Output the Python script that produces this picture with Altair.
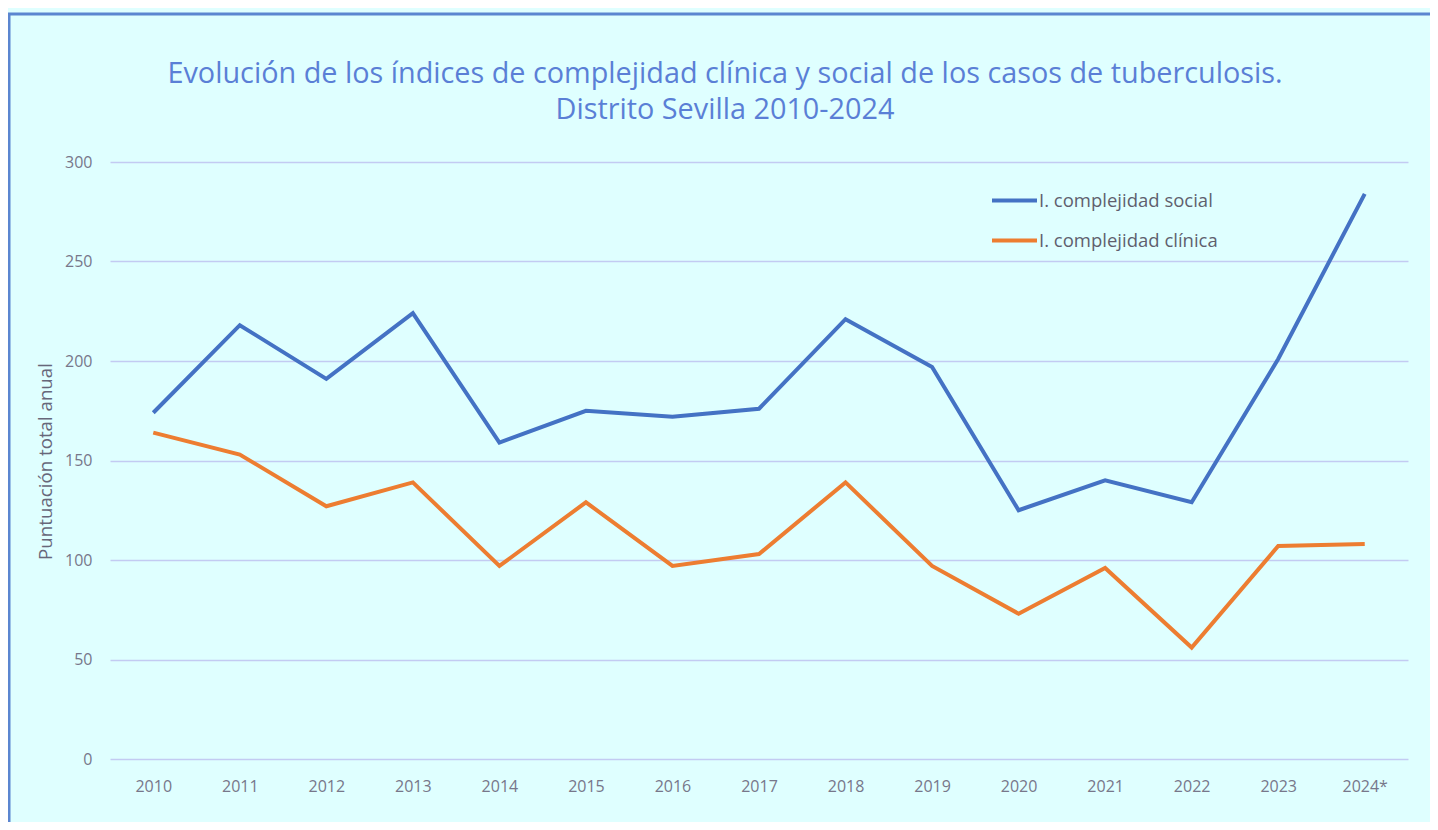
import altair as alt
import pandas as pd

years = ["2010", "2011", "2012", "2013", "2014", "2015", "2016", "2017",
         "2018", "2019", "2020", "2021", "2022", "2023", "2024*"]
social = [174, 218, 191, 224, 159, 175, 172, 176, 221, 197, 125, 140, 129, 201, 284]
clinica = [164, 153, 127, 139, 97, 129, 97, 103, 139, 97, 73, 96, 56, 107, 108]
series_names = ["I. complejidad social", "I. complejidad clínica"]
series_colors = ["#4472C4", "#ED7D31"]
y_ticks = [0, 50, 100, 150, 200, 250, 300]

rows = []
for name, vals in zip(series_names, [social, clinica]):
    for yr, v in zip(years, vals):
        rows.append({"Año": yr, "Serie": name, "Valor": v})
df = pd.DataFrame(rows)

W, H = 1298, 597
FONT = "Open Sans"

lines = alt.Chart(df).mark_line(strokeWidth=4).encode(
    x=alt.X("Año:N", sort=years, scale=alt.Scale(type="point", padding=0.5),
            axis=alt.Axis(title=None, labelAngle=0, ticks=False, domain=False,
                          labelPadding=19, labelFontSize=16, labelColor="#77778A",
                          labelFont=FONT, grid=False)),
    y=alt.Y("Valor:Q", scale=alt.Scale(domain=[0, 300], nice=False),
            axis=alt.Axis(title="Puntuación total anual", values=y_ticks,
                          ticks=False, domain=False, labelPadding=18,
                          labelFontSize=16, labelColor="#77778A", labelFont=FONT,
                          gridColor="#C3CBF2", gridWidth=1.5,
                          titleFont=FONT, titleFontSize=18.7, titleColor="#67677A",
                          titleFontWeight="normal", titleX=-65, titleY=299,
                          titleAngle=-90, titleAlign="center", titleBaseline="middle")),
    color=alt.Color("Serie:N", sort=series_names,
                    scale=alt.Scale(domain=series_names, range=series_colors),
                    legend=alt.Legend(title=None, orient="none", legendX=880, legendY=14,
                                      symbolType="stroke", symbolSize=2025,
                                      symbolStrokeWidth=4, labelFontSize=18.5,
                                      labelFont=FONT, labelColor="#5F5F6E",
                                      labelLimit=0, labelOffset=0, rowPadding=6,
                                      direction="vertical")),
)

frame = alt.Chart(pd.DataFrame({"k": [0]})).mark_rect(
    fill="transparent", stroke="#5B86D0", strokeWidth=3
).encode(
    x=alt.value(-101), x2=alt.value(W + 60),
    y=alt.value(-148), y2=alt.value(H + 100)
)

chart = alt.layer(frame, lines).properties(
    width=W, height=H,
    title=alt.TitleParams(
        text=["Evolución de los índices de complejidad clínica y social de los casos de tuberculosis.",
              "Distrito Sevilla 2010-2024"],
        font=FONT, fontSize=28.8, fontWeight="normal", color="#5A7FD6",
        anchor="middle", frame="group", dx=-34, offset=-112, lineHeight=36,
    ),
    background="#DFFFFF",
    padding={"left": 102, "top": 154, "right": 22, "bottom": 63},
    autosize=alt.AutoSizeParams(type="none"),
).configure_view(stroke=None)

chart.save("out.html", embed_options={"renderer": "svg", "actions": False})
